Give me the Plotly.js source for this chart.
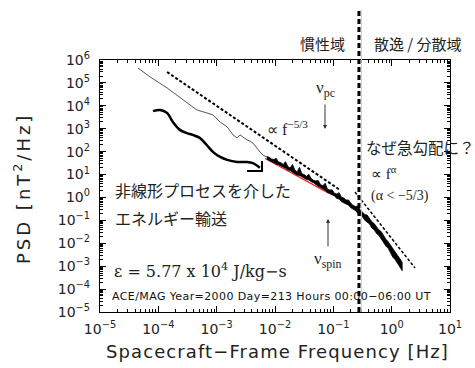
<!DOCTYPE html>
<html><head><meta charset="utf-8">
<script src="https://cdn.plot.ly/plotly-3.0.1.min.js"></script>
<style>
html,body{margin:0;padding:0;background:#fff;} #chart{width:475px;height:368px;}
text.annotation-text[data-unformatted^="Spacecraft"]{letter-spacing:1.1px;}
text.annotation-text[data-unformatted^="PSD"]{letter-spacing:3px;}
text.annotation-text[data-unformatted^="ACE"]{letter-spacing:0.4px;}
</style>
</head><body><div id="chart"></div>
<script>
// ---- tick labels ----
const xTickVals = [1e-5, 1e-4, 1e-3, 1e-2, 1e-1, 1, 10];
const xTickText = ['10<sup>−5</sup>','10<sup>−4</sup>','10<sup>−3</sup>','10<sup>−2</sup>','10<sup>−1</sup>','10<sup>0</sup>','10<sup>1</sup>'];
const yTickVals = [1e-5,1e-4,1e-3,1e-2,1e-1,1,10,100,1e3,1e4,1e5,1e6];
const yTickText = ['10<sup>−5</sup>','10<sup>−4</sup>','10<sup>−3</sup>','10<sup>−2</sup>','10<sup>−1</sup>','10<sup>0</sup>','10<sup>1</sup>','10<sup>2</sup>','10<sup>3</sup>','10<sup>4</sup>','10<sup>5</sup>','10<sup>6</sup>'];

// ---- data (log10 of frequency [Hz] and log10 of PSD [nT^2/Hz]) ----
const grayLogF   = [-4.35,-4.14,-3.85,-3.58,-3.34,-3.17,-3.06,-2.94,-2.82,-2.72,-2.65,-2.60,-2.55,-2.48,-2.42,-2.38,-2.30,-2.26,-2.21,-2.14];
const grayLogPSD = [ 5.65, 5.26, 4.78, 4.25, 3.82, 3.69, 3.60, 3.29, 3.08, 2.73, 2.60, 2.73, 2.64, 2.51, 2.45, 2.38, 2.12, 1.98, 1.85, 1.77];

const smoothLogF   = [-4.09,-3.97,-3.85,-3.75,-3.63,-3.51,-3.41,-3.29,-3.17,-3.06,-2.94,-2.82,-2.65,-2.48,-2.38,-2.26];
const smoothLogPSD = [ 3.77, 3.82, 3.69, 3.29, 2.95, 2.81, 2.73, 2.60, 2.29, 1.98, 1.77, 1.64, 1.55, 1.55, 1.50, 1.30];

const arrowLogF   = [-2.48, -2.223, -2.223];
const arrowLogPSD = [1.155, 1.155, 1.59];

// high-resolution spectrum: jagged upper and lower edges of the noisy band
const noisyLogF = [-2.14,-2.10,-2.06,-2.02,-1.98,-1.94,-1.90,-1.86,-1.82,-1.78,-1.74,-1.70,-1.66,-1.62,-1.58,-1.54,-1.50,-1.46,-1.42,-1.38,
  -1.34,-1.30,-1.26,-1.22,-1.18,-1.14,-1.10,-1.06,-1.02,-0.98,-0.94,-0.90,-0.86,-0.82,-0.78,-0.74,-0.70,-0.66,-0.62,-0.58,
  -0.54,-0.50,-0.46,-0.42,-0.38,-0.34,-0.30,-0.26,-0.22,-0.18,-0.14,-0.10,-0.06,-0.02,0.02,0.06,0.10,0.14,0.18];
const noisyUpperLogPSD = [1.785,1.758,1.681,1.654,1.707,1.551,1.521,1.437,1.563,1.349,1.286,1.442,1.198,1.114,1.313,1.032,1.002,0.921,1.010,0.829,
  0.755,0.719,0.743,0.567,0.511,0.625,0.359,0.323,0.331,0.181,0.149,0.208,0.007,-0.024,-0.112,-0.107,-0.252,-0.346,-0.391,-0.376,
  -0.533,-0.624,-0.746,-0.767,-0.918,-1.056,-1.139,-1.271,-1.414,-1.486,-1.658,-1.820,-1.932,-2.067,-2.240,-2.343,-2.526,-2.670,-2.825];
const noisyLowerLogPSD = [1.675,1.608,1.571,1.534,1.457,1.430,1.371,1.337,1.273,1.199,1.176,1.102,1.058,0.974,0.963,0.892,0.852,0.781,0.760,0.689,
  0.645,0.589,0.493,0.437,0.391,0.315,0.219,0.193,0.111,0.060,-0.041,-0.072,-0.183,-0.204,-0.282,-0.337,-0.452,-0.506,-0.571,-0.696,
  -0.763,-0.844,-0.996,-1.077,-1.159,-1.336,-1.409,-1.571,-1.654,-1.846,-1.958,-2.120,-2.222,-2.427,-2.610,-2.713,-2.896,-3.030,-3.195];

const fitLogF   = [-2.17, -1.08];
const fitLogPSD = [1.70, 0.19];

const kolmogorovLogF   = [-3.851, -0.886];
const kolmogorovLogPSD = [5.476, 0.326];

const steepLogF   = [-0.629, 0.400];
const steepLogPSD = [0.238, -3.079];

const breakFreq = 0.275;

const p10 = a => a.map(v => Math.pow(10, v));

function minorVals(lo, hi){ const out=[]; for(let e=lo;e<hi;e++){ for(let m=2;m<=9;m++) out.push(m*Math.pow(10,e)); } return out; }

const bandX = p10(noisyLogF.concat(noisyLogF.slice().reverse()));
const bandY = p10(noisyUpperLogPSD.concat(noisyLowerLogPSD.slice().reverse()));

const traces = [
  {x:p10(grayLogF), y:p10(grayLogPSD), mode:'lines', line:{color:'#555', width:1}, hoverinfo:'skip'},
  {x:p10(smoothLogF), y:p10(smoothLogPSD), mode:'lines', line:{color:'black', width:2.5, shape:'spline'}, hoverinfo:'skip'},
  {x:p10(arrowLogF), y:p10(arrowLogPSD), mode:'lines', line:{color:'black', width:2}, hoverinfo:'skip'},
  {x:p10(fitLogF), y:p10(fitLogPSD), mode:'lines', line:{color:'#e8231f', width:1.2}, hoverinfo:'skip'},
  {x:bandX, y:bandY, mode:'lines', fill:'toself', fillcolor:'black', line:{color:'black', width:0.8}, hoverinfo:'skip'},
  {x:p10(kolmogorovLogF), y:p10(kolmogorovLogPSD), mode:'lines', line:{color:'black', width:2, dash:'3px,2px'}, hoverinfo:'skip'},
  {x:p10(steepLogF), y:p10(steepLogPSD), mode:'lines', line:{color:'black', width:1.5, dash:'3px,2px'}, hoverinfo:'skip'}
];

const L=100, R=450, T=60, B=312;
const px = v => (v-L)/(R-L);
const py = v => (B-v)/(B-T);
const jp = 'Noto Sans CJK JP';
const serif = 'Liberation Serif';
function ann(text, x, y, xa, size, family, extra){
  return Object.assign({text:text, xref:'paper', yref:'paper', x:px(x), y:py(y), xanchor:xa, yanchor:'middle',
    showarrow:false, font:{family:family, size:size, color:'#222'}}, extra||{});
}
function arrow(xt, yt, ay){
  return {text:'', xref:'paper', yref:'paper', x:px(xt), y:py(yt), ax:0, ay:ay, showarrow:true,
    arrowhead:2, arrowsize:0.8, arrowwidth:1, arrowcolor:'#333'};
}

const annotations = [
  ann('慣性域', 347, 43, 'right', 15, jp),
  ann('散逸 / 分散域', 372, 43, 'left', 15, jp),
  ann('ν<sub>pc</sub>', 325, 89, 'center', 17, serif),
  arrow(325, 129, -26),
  ann('∝ f<sup>−5/3</sup>', 265, 128, 'left', 16, serif),
  ann('なぜ急勾配に？', 364, 147, 'left', 15.5, jp),
  ann('∝ f<sup>α</sup>', 369, 173, 'left', 15, serif),
  ann('(α < −5/3)', 369, 196, 'left', 14, serif),
  ann('ν<sub>spin</sub>', 328, 260, 'center', 17, serif),
  arrow(328, 219, 29),
  ann('非線形プロセスを介した', 113, 190, 'left', 16, jp),
  ann('エネルギー輸送', 113, 218, 'left', 16, jp),
  ann('ε = 5.77 x 10<sup>4</sup> J/kg−s', 112, 270, 'left', 16, 'DejaVu Serif'),
  ann('ACE/MAG Year=2000 Day=213 Hours 00:00−06:00 UT', 110, 296, 'left', 11, 'DejaVu Sans', {font:{family:'DejaVu Sans', size:11, color:'#111'}}),
  ann('Spacecraft−Frame Frequency [Hz]', 277, 352, 'center', 18, 'DejaVu Sans', {font:{family:'DejaVu Sans', size:18, color:'#222'}}),
  ann('PSD [nT<sup>2</sup>/Hz]', 22, 189, 'center', 18, 'DejaVu Sans', {textangle:-90, font:{family:'DejaVu Sans', size:18, color:'#222'}})
];

const axisBase = {
  type:'log', showgrid:false, zeroline:false, showline:true, linecolor:'black', linewidth:1.2,
  mirror:'allticks', ticks:'inside', ticklen:6, tickwidth:1, tickcolor:'black',
  tickmode:'array', tickfont:{family:'DejaVu Sans', size:14, color:'#222'}
};

const layout = {
  width:475, height:368, margin:{l:L, r:475-R, t:T, b:368-B}, paper_bgcolor:'white', plot_bgcolor:'white',
  showlegend:false,
  xaxis: Object.assign({}, axisBase, {range:[-5,1], tickvals:xTickVals, ticktext:xTickText, ticklabelstandoff:4,
    minor:{tickmode:'array', tickvals:minorVals(-5,1), ticks:'inside', ticklen:3, tickcolor:'black', tickwidth:1, showgrid:false}}),
  yaxis: Object.assign({}, axisBase, {range:[-5,6], tickvals:yTickVals, ticktext:yTickText, ticklabelstandoff:6,
    minor:{tickmode:'array', tickvals:minorVals(-5,6), ticks:'inside', ticklen:3, tickcolor:'black', tickwidth:1, showgrid:false}}),
  shapes:[
    {type:'line', xref:'x', yref:'paper', x0:0.302, x1:0.302, y0:0, y1:1.2, line:{color:'#a8d8f0', width:1}},
    {type:'line', xref:'x', yref:'paper', x0:breakFreq, x1:breakFreq, y0:0, y1:1.206, line:{color:'black', width:3, dash:'5px,3px'}}
  ],
  annotations: annotations
};

Plotly.newPlot('chart', traces, layout, {displayModeBar:false, staticPlot:true});
</script></body></html>
